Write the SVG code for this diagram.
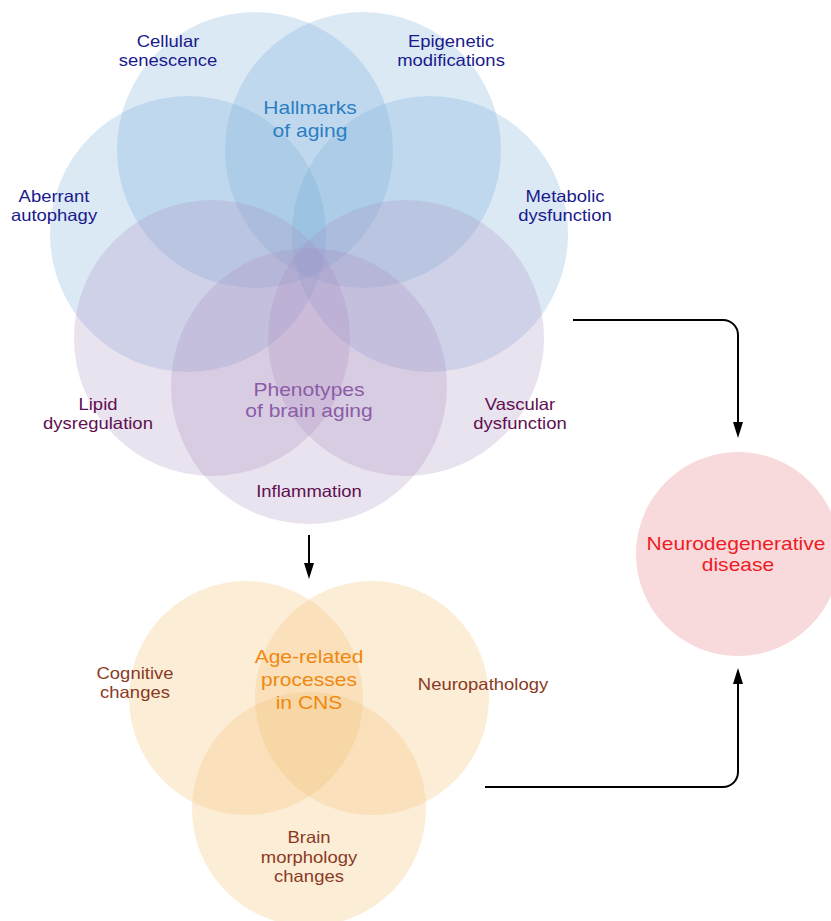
<svg xmlns="http://www.w3.org/2000/svg" width="831" height="921" viewBox="0 0 831 921">
<defs>
<style>
text{font-family:"Liberation Sans",Arial,Helvetica,sans-serif;text-anchor:middle}
.sm{font-size:16.5px}
.lg{font-size:18.8px}
.blueC{fill:#6fa9d8;fill-opacity:0.25}
.purpC{fill:#a98bc0;fill-opacity:0.25}
.orC{fill:#f5c27a;fill-opacity:0.3}
.pinkC{fill:#f9dadc}
.tBlue{fill:#1a1a8c}
.tHall{fill:#2a7fc4}
.tPurp{fill:#5e1050}
.tPhen{fill:#8b5ca6}
.tBrown{fill:#8a3a24}
.tOr{fill:#f0880f}
.tRed{fill:#ee1c25}
.conn{fill:none;stroke:#000;stroke-width:2}
</style>
<marker id="arr" markerUnits="userSpaceOnUse" markerWidth="16" markerHeight="10" refX="2" refY="5" orient="auto">
<path d="M0,0 L16,5 L0,10 z" fill="#000"/>
</marker>
</defs>
<rect width="831" height="921" fill="#fff"/>

<g id="hallmarks">
<circle id="c-senescence" class="blueC" cx="255" cy="150" r="138"/>
<circle id="c-epigenetic" class="blueC" cx="363" cy="150" r="138"/>
<circle id="c-autophagy" class="blueC" cx="188" cy="234" r="138"/>
<circle id="c-metabolic" class="blueC" cx="430" cy="234" r="138"/>
</g>
<g id="phenotypes">
<circle id="c-lipid" class="purpC" cx="212" cy="338" r="138"/>
<circle id="c-vascular" class="purpC" cx="406" cy="338" r="138"/>
<circle id="c-inflammation" class="purpC" cx="309" cy="386" r="138"/>
</g>
<g id="cns">
<circle id="c-cognitive" class="orC" cx="246" cy="698" r="117"/>
<circle id="c-neuropathology" class="orC" cx="372" cy="698" r="117"/>
<circle id="c-morphology" class="orC" cx="309" cy="809" r="117"/>
</g>
<g id="neurodegenerative">
<circle class="pinkC" cx="738" cy="554" r="102"/>
</g>

<g id="connectors">
<path class="conn" d="M309,535 V565" marker-end="url(#arr)"/>
<path class="conn" d="M573,320 H723 A15,15 0 0 1 738,335 V424" marker-end="url(#arr)"/>
<path class="conn" d="M485,787 H723 A15,15 0 0 0 738,772 V682" marker-end="url(#arr)"/>
</g>

<g id="labels">
<g id="l-senescence" class="sm tBlue">
<text transform="translate(168 0) scale(1.12 1)" x="0" y="47">Cellular</text>
<text transform="translate(168 0) scale(1.12 1)" x="0" y="66">senescence</text>
</g>
<g id="l-epigenetic" class="sm tBlue">
<text transform="translate(451 0) scale(1.12 1)" x="0" y="47">Epigenetic</text>
<text transform="translate(451 0) scale(1.12 1)" x="0" y="66">modifications</text>
</g>
<g id="l-hallmarks" class="lg tHall">
<text transform="translate(310 0) scale(1.12 1)" x="0" y="114">Hallmarks</text>
<text transform="translate(310 0) scale(1.12 1)" x="0" y="137">of aging</text>
</g>
<g id="l-autophagy" class="sm tBlue">
<text transform="translate(54 0) scale(1.12 1)" x="0" y="202">Aberrant</text>
<text transform="translate(54 0) scale(1.12 1)" x="0" y="221">autophagy</text>
</g>
<g id="l-metabolic" class="sm tBlue">
<text transform="translate(565 0) scale(1.12 1)" x="0" y="202">Metabolic</text>
<text transform="translate(565 0) scale(1.12 1)" x="0" y="221">dysfunction</text>
</g>
<g id="l-phenotypes" class="lg tPhen">
<text transform="translate(309 0) scale(1.12 1)" x="0" y="396">Phenotypes</text>
<text transform="translate(309 0) scale(1.12 1)" x="0" y="417">of brain aging</text>
</g>
<g id="l-lipid" class="sm tPurp">
<text transform="translate(98 0) scale(1.12 1)" x="0" y="410">Lipid</text>
<text transform="translate(98 0) scale(1.12 1)" x="0" y="429">dysregulation</text>
</g>
<g id="l-vascular" class="sm tPurp">
<text transform="translate(520 0) scale(1.12 1)" x="0" y="410">Vascular</text>
<text transform="translate(520 0) scale(1.12 1)" x="0" y="429">dysfunction</text>
</g>
<g id="l-inflammation" class="sm tPurp">
<text transform="translate(309 0) scale(1.12 1)" x="0" y="497">Inflammation</text>
</g>
<g id="l-cognitive" class="sm tBrown">
<text transform="translate(135 0) scale(1.12 1)" x="0" y="679">Cognitive</text>
<text transform="translate(135 0) scale(1.12 1)" x="0" y="698">changes</text>
</g>
<g id="l-cns" class="lg tOr">
<text transform="translate(309 0) scale(1.12 1)" x="0" y="663">Age-related</text>
<text transform="translate(309 0) scale(1.12 1)" x="0" y="686">processes</text>
<text transform="translate(309 0) scale(1.12 1)" x="0" y="709">in CNS</text>
</g>
<g id="l-neuropathology" class="sm tBrown">
<text transform="translate(483 0) scale(1.12 1)" x="0" y="690">Neuropathology</text>
</g>
<g id="l-morphology" class="sm tBrown">
<text transform="translate(309 0) scale(1.12 1)" x="0" y="843">Brain</text>
<text transform="translate(309 0) scale(1.12 1)" x="0" y="863">morphology</text>
<text transform="translate(309 0) scale(1.12 1)" x="0" y="882">changes</text>
</g>
<g id="l-neurodegenerative" class="lg tRed">
<text transform="translate(736 0) scale(1.12 1)" x="0" y="550">Neurodegenerative</text>
<text transform="translate(738 0) scale(1.12 1)" x="0" y="571">disease</text>
</g>
</g>
</svg>
